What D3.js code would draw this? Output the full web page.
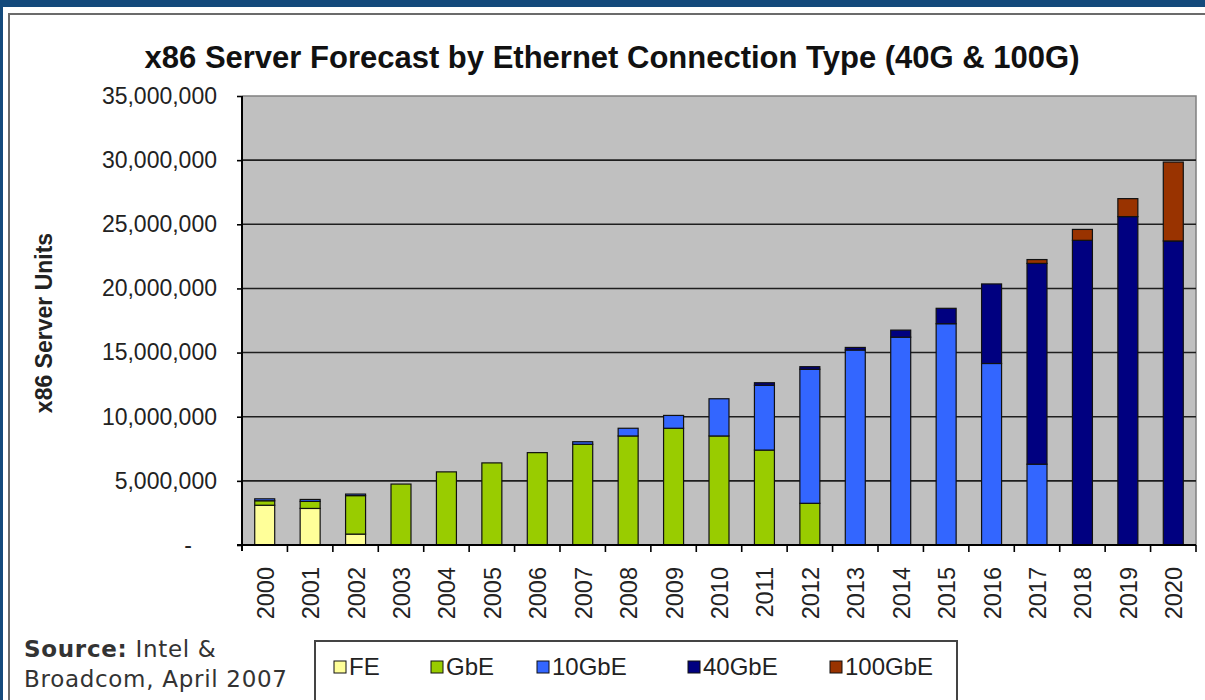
<!DOCTYPE html>
<html>
<head>
<meta charset="utf-8">
<script src="https://cdn.jsdelivr.net/npm/d3@7"></script>
<style>
  body { margin: 0; background: #fff; }
  svg { display: block; }
</style>
</head>
<body>
<div id="chart"></div>
<script>
// chart data (units)
const years = ['2000', '2001', '2002', '2003', '2004', '2005', '2006', '2007', '2008', '2009', '2010',
               '2011', '2012', '2013', '2014', '2015', '2016', '2017', '2018', '2019', '2020'];
const seriesNames = ['FE', 'GbE', '10GbE', '40GbE', '100GbE'];
const fe = [3100000, 2850000, 850000, 0, 0, 0, 0, 0, 0, 0, 0,
            0, 0, 0, 0, 0, 0, 0, 0, 0, 0];
const gbe = [350000, 550000, 3000000, 4750000, 5700000, 6400000, 7200000, 7850000, 8500000, 9100000, 8500000,
             7400000, 3250000, 0, 0, 0, 0, 0, 0, 0, 0];
const tenGbe = [150000, 150000, 120000, 0, 0, 0, 0, 200000, 600000, 1000000, 2900000,
                5050000, 10450000, 15200000, 16200000, 17250000, 14150000, 6300000, 0, 0, 0];
const fortyGbe = [0, 0, 0, 0, 0, 0, 0, 0, 0, 0, 0,
                  200000, 200000, 200000, 550000, 1200000, 6200000, 15650000, 23750000, 25600000, 23700000];
const hundredGbe = [0, 0, 0, 0, 0, 0, 0, 0, 0, 0, 0,
                    0, 0, 0, 0, 0, 0, 300000, 850000, 1400000, 6150000];
const yTicks = [0, 5000000, 10000000, 15000000, 20000000, 25000000, 30000000, 35000000];

const colors = ['#ffff99', '#99cc00', '#3366ff', '#000080', '#993300'];

const width = 1205;
const height = 700;
const plot = { left: 242, right: 1196, top: 96, bottom: 545 };

const svg = d3.select('#chart').append('svg')
    .attr('width', width)
    .attr('height', height);

// outer frame
svg.append('rect').attr('width', width).attr('height', height).attr('fill', '#144a7c');
svg.append('rect').attr('x', 3).attr('y', 7).attr('width', width).attr('height', height).attr('fill', '#fff');
svg.append('path')
    .attr('d', `M9,${height} V14 H${width}`)
    .attr('fill', 'none')
    .attr('stroke', '#6b6b6b')
    .attr('stroke-width', 2);

// title
svg.append('text')
    .attr('x', 612)
    .attr('y', 68)
    .attr('text-anchor', 'middle')
    .attr('font-family', 'Liberation Sans, Arial, sans-serif')
    .attr('font-weight', 'bold')
    .attr('font-size', 31)
    .attr('fill', '#111')
    .text('x86 Server Forecast by Ethernet Connection Type (40G & 100G)');

// scales
const x = d3.scaleBand()
    .domain(years)
    .range([plot.left, plot.right])
    .paddingInner(0.56)
    .paddingOuter(0.28);

const y = d3.scaleLinear()
    .domain([0, 35000000])
    .range([plot.bottom, plot.top]);

// plot background
svg.append('rect')
    .attr('x', plot.left)
    .attr('y', plot.top)
    .attr('width', plot.right - plot.left)
    .attr('height', plot.bottom - plot.top)
    .attr('fill', '#c0c0c0');

svg.append('path')
    .attr('d', `M${plot.left},${plot.top} H${plot.right} V${plot.bottom}`)
    .attr('fill', 'none')
    .attr('stroke', '#808080')
    .attr('stroke-width', 1.5);

// gridlines
svg.append('g')
    .selectAll('line')
    .data(yTicks.filter(d => d > 0 && d < 35000000))
    .enter()
    .append('line')
    .attr('x1', plot.left)
    .attr('x2', plot.right)
    .attr('y1', d => y(d))
    .attr('y2', d => y(d))
    .attr('stroke', '#1e1e1e')
    .attr('stroke-width', 1.6);

// stacked bars
const rows = years.map((yr, i) => ({
    year: yr,
    FE: fe[i], GbE: gbe[i], '10GbE': tenGbe[i], '40GbE': fortyGbe[i], '100GbE': hundredGbe[i]
}));
const stacked = d3.stack().keys(seriesNames)(rows);

svg.append('g')
    .selectAll('g')
    .data(stacked)
    .enter()
    .append('g')
    .attr('fill', (d, i) => colors[i])
    .selectAll('rect')
    .data(d => d.filter(p => p[1] - p[0] > 0))
    .enter()
    .append('rect')
    .attr('x', d => x(d.data.year))
    .attr('y', d => y(d[1]))
    .attr('width', x.bandwidth())
    .attr('height', d => y(d[0]) - y(d[1]))
    .attr('stroke', '#111')
    .attr('stroke-width', 1.2);

// y axis
const yAxis = svg.append('g')
    .attr('transform', `translate(${plot.left},0)`)
    .call(d3.axisLeft(y)
        .tickValues(yTicks)
        .tickSize(5)
        .tickPadding(20)
        .tickFormat(d => d === 0 ? '-' : d3.format(',')(d)));
yAxis.select('.domain').remove();
yAxis.selectAll('line').attr('stroke', '#000').attr('stroke-width', 1.6);
yAxis.selectAll('text')
    .attr('font-family', 'Liberation Sans, Arial, sans-serif')
    .attr('font-size', 23)
    .attr('fill', '#222');
yAxis.selectAll('.tick')
    .filter(d => d === 0)
    .select('text')
    .attr('x', -50);

svg.append('line')
    .attr('x1', plot.left).attr('x2', plot.left)
    .attr('y1', plot.top).attr('y2', plot.bottom + 6)
    .attr('stroke', '#000').attr('stroke-width', 2);

// x axis
svg.append('line')
    .attr('x1', plot.left - 5).attr('x2', plot.right)
    .attr('y1', plot.bottom).attr('y2', plot.bottom)
    .attr('stroke', '#000').attr('stroke-width', 2);

const gap = (x.step() - x.bandwidth()) / 2;
svg.append('g')
    .selectAll('line')
    .data(years)
    .enter()
    .append('line')
    .attr('x1', d => x(d) + x.bandwidth() + gap)
    .attr('x2', d => x(d) + x.bandwidth() + gap)
    .attr('y1', plot.bottom)
    .attr('y2', plot.bottom + 7)
    .attr('stroke', '#000')
    .attr('stroke-width', 1.6);

svg.append('g')
    .selectAll('text')
    .data(years)
    .enter()
    .append('text')
    .attr('transform', d => `translate(${x(d) + x.bandwidth() / 2 + 9},${plot.bottom + 22}) rotate(-90)`)
    .attr('text-anchor', 'end')
    .attr('font-family', 'Liberation Sans, Arial, sans-serif')
    .attr('font-size', 23.5)
    .attr('fill', '#222')
    .text(d => d);

// y axis title
svg.append('text')
    .attr('transform', 'translate(52,323) rotate(-90)')
    .attr('text-anchor', 'middle')
    .attr('font-family', 'Liberation Sans, Arial, sans-serif')
    .attr('font-weight', 'bold')
    .attr('font-size', 23)
    .attr('fill', '#222')
    .text('x86 Server Units');

// legend
const legendX = [334, 431, 537, 688, 830];
const legend = svg.append('g');
legend.append('rect')
    .attr('x', 315).attr('y', 641)
    .attr('width', 642).attr('height', 80)
    .attr('fill', '#fff')
    .attr('stroke', '#444')
    .attr('stroke-width', 2);

const items = legend.selectAll('g.item')
    .data(seriesNames)
    .enter()
    .append('g')
    .attr('class', 'item')
    .attr('transform', (d, i) => `translate(${legendX[i]},661)`);
items.append('rect')
    .attr('width', 12).attr('height', 12)
    .attr('fill', (d, i) => colors[i])
    .attr('stroke', '#111')
    .attr('stroke-width', 1);
items.append('text')
    .attr('x', 15)
    .attr('y', 14)
    .attr('font-family', 'Liberation Sans, Arial, sans-serif')
    .attr('font-size', 24)
    .attr('fill', '#222')
    .text(d => d);

// source note
const note = svg.append('text')
    .attr('font-family', 'DejaVu Sans, Verdana, sans-serif')
    .attr('font-size', 23)
    .attr('letter-spacing', 0.7)
    .attr('fill', '#333');
note.append('tspan').attr('x', 24).attr('y', 657).attr('font-weight', 'bold').text('Source:');
note.append('tspan').text(' Intel &');
note.append('tspan').attr('x', 24).attr('y', 687).text('Broadcom, April 2007');
</script>
</body>
</html>
